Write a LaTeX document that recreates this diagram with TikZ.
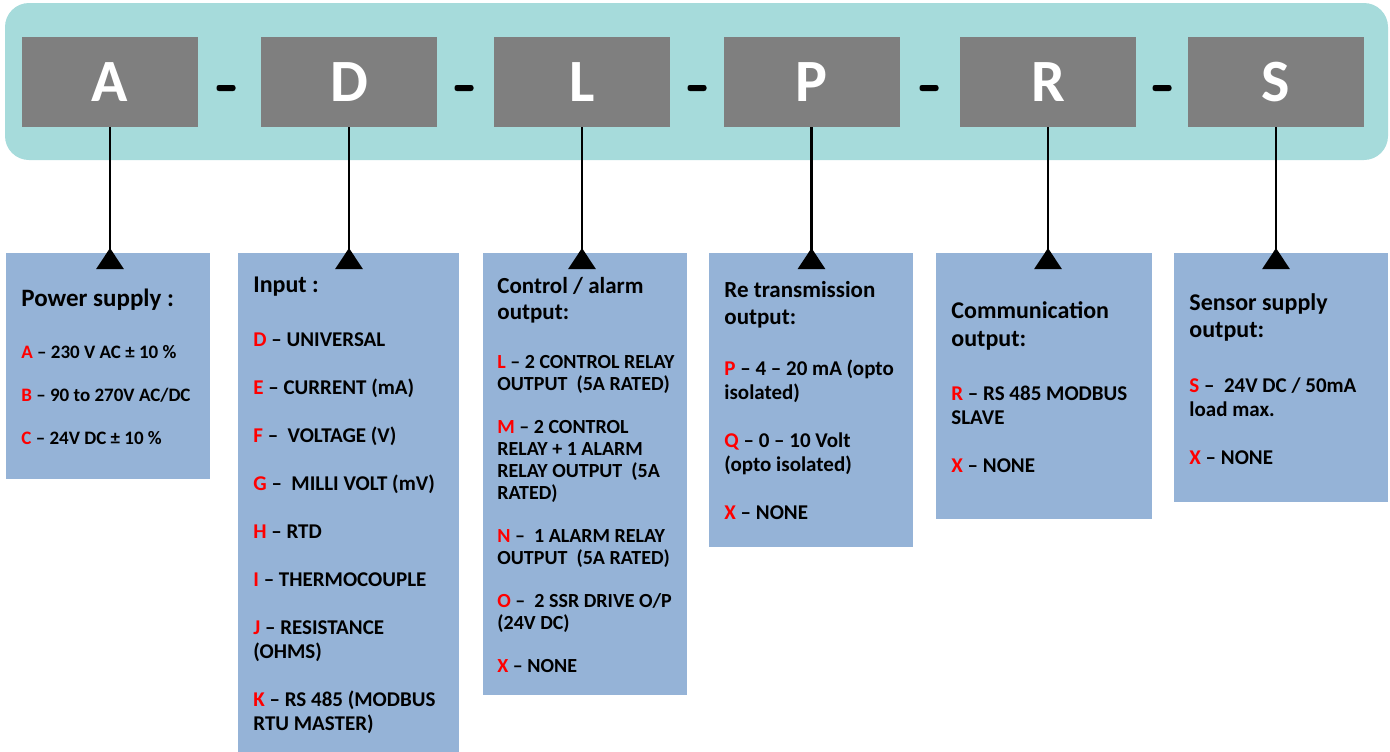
\documentclass[tikz,border=0pt]{standalone}
\usepackage{fontspec}
\setmainfont{Carlito}
\usepackage{tikz}
\usetikzlibrary{positioning,arrows.meta}
\usepackage{xcolor}
\definecolor{bandteal}{HTML}{A6DBDB}
\definecolor{codegrey}{HTML}{7F7F7F}
\definecolor{panelblue}{HTML}{95B3D7}
\definecolor{keyred}{HTML}{FF0000}
\newcommand{\optkey}[1]{\textcolor{keyred}{#1}}

\begin{document}
\begin{tikzpicture}[x=0.5pt, y=-0.5pt,
    codebox/.style={fill=codegrey, minimum width=88pt, minimum height=45pt, inner sep=0pt,
        text=white, font=\bfseries\fontsize{30}{30}\selectfont},
    dashbar/.style={fill=black, rounded corners=1.2pt, minimum width=9.5pt, minimum height=3pt, inner sep=0pt},
    panel/.style={fill=panelblue, anchor=north west, inner sep=0pt},
    head/.style={anchor=base west, inner sep=0pt, align=left, font=\bfseries\fontsize{12}{13.5}\selectfont},
    body/.style={anchor=base west, inner sep=0pt, align=left, font=\bfseries\fontsize{10.5}{12}\selectfont},
    link/.style={line width=1.4pt, -{Triangle[reversed, length=10.5pt, width=13.5pt]}, shorten >=-8pt}]
                \useasboundingbox (0,0) rectangle (1390,751);

                % Code band
                \fill[bandteal, rounded corners=12pt] (5,3) rectangle (1388,160);
                \node[codebox] (abox) at (110,82) {A};
                \node[codebox] (dbox) at (349,82) {D};
                \node[codebox] (lbox) at (582,82) {L};
                \node[codebox] (pbox) at (811.5,82) {P};
                \node[codebox] (rbox) at (1048,82) {R};
                \node[codebox] (sbox) at (1276,82) {S};
                \node[dashbar] (dash1) at (226,88) {};
                \node[dashbar] (dash2) at (464,88) {};
                \node[dashbar] (dash3) at (697,88) {};
                \node[dashbar] (dash4) at (929,88) {};
                \node[dashbar] (dash5) at (1162,88) {};

                % Power supply (A)  -- text nodes sit on their last baseline
                \node[panel, minimum width=102pt, minimum height=113pt] (pspanel) at (6,253) {};
                \node[head, font=\bfseries\fontsize{12.5}{14}\selectfont] (pshead) at (21,306) {Power supply :};
                \node[body, font=\bfseries\fontsize{9.5}{12}\selectfont] (pstext) at (21,444)
                    {\optkey{A} – 230 V AC ± 10 \%\\[9.5pt]
                     \optkey{B} – 90 to 270V AC/DC\\[9.5pt]
                     \optkey{C} – 24V DC ± 10 \%};

                % Input (D)
                \node[panel, minimum width=110.5pt, minimum height=250pt] (inpanel) at (238,253) {};
                \node[head] (inhead) at (253,292.5) {Input :};
                \node[body] (intext) at (253,730)
                    {\optkey{D} – UNIVERSAL\\[12pt]
                     \optkey{E} – CURRENT (mA)\\[12pt]
                     \optkey{F} –~ VOLTAGE (V)\\[12pt]
                     \optkey{G} –~ MILLI VOLT (mV)\\[12pt]
                     \optkey{H} – RTD\\[12pt]
                     \optkey{I} – THERMOCOUPLE\\[12pt]
                     \optkey{J} – RESISTANCE\\
                     (OHMS)\\[12pt]
                     \optkey{K} – RS 485 (MODBUS\\
                     RTU MASTER)};

                % Control / alarm output (L)
                \node[panel, minimum width=102pt, minimum height=221pt] (ctpanel) at (483,253) {};
                \node[head, font=\bfseries\fontsize{11.5}{13}\selectfont] (cthead) at (497,319.5)
                    {Control / alarm\\ output:};
                \node[body, font=\bfseries\fontsize{10}{11}\selectfont] (cttext) at (497,672.5)
                    {\optkey{L} – 2 CONTROL RELAY\\
                     OUTPUT~ (5A RATED)\\[10.5pt]
                     \optkey{M} – 2 CONTROL\\
                     RELAY + 1 ALARM\\
                     RELAY OUTPUT~ (5A\\
                     RATED)\\[10.5pt]
                     \optkey{N} –~ 1 ALARM RELAY\\
                     OUTPUT~ (5A RATED)\\[10.5pt]
                     \optkey{O} –~ 2 SSR DRIVE O/P\\
                     (24V DC)\\[10.5pt]
                     \optkey{X} – NONE};

                % Re transmission output (P)
                \node[panel, minimum width=102pt, minimum height=147pt] (rtpanel) at (709,253) {};
                \node[head, font=\bfseries\fontsize{11.5}{13.5}\selectfont] (rthead) at (724,324.5)
                    {Re transmission\\ output:};
                \node[body] (rttext) at (724,519)
                    {\optkey{P} – 4 – 20 mA (opto\\
                     isolated)\\[12pt]
                     \optkey{Q} – 0 – 10 Volt\\
                     (opto isolated)\\[12pt]
                     \optkey{X} – NONE};

                % Communication output (R)
                \node[panel, minimum width=108pt, minimum height=133pt] (cmpanel) at (936,253) {};
                \node[head, font=\bfseries\fontsize{12}{14}\selectfont] (cmhead) at (951,346.5)
                    {Communication\\ output:};
                \node[body] (cmtext) at (951,472)
                    {\optkey{R} – RS 485 MODBUS\\
                     SLAVE\\[12pt]
                     \optkey{X} – NONE};

                % Sensor supply output (S)
                \node[panel, minimum width=107pt, minimum height=124.5pt] (sspanel) at (1174,253) {};
                \node[head] (sshead) at (1189,337)
                    {Sensor supply\\ output:};
                \node[body] (sstext) at (1189,464)
                    {\optkey{S} –~ 24V DC / 50mA\\
                     load max.\\[12pt]
                     \optkey{X} – NONE};

                % Links
                \draw[link] (abox.south) -- (abox.south |- pspanel.north);
                \draw[link] (dbox.south) -- (dbox.south |- inpanel.north);
                \draw[link] (lbox.south) -- (lbox.south |- ctpanel.north);
                \draw[link] (pbox.south) -- (pbox.south |- rtpanel.north);
                \draw[link] (rbox.south) -- (rbox.south |- cmpanel.north);
                \draw[link] (sbox.south) -- (sbox.south |- sspanel.north);
            \end{tikzpicture}
\end{document}
